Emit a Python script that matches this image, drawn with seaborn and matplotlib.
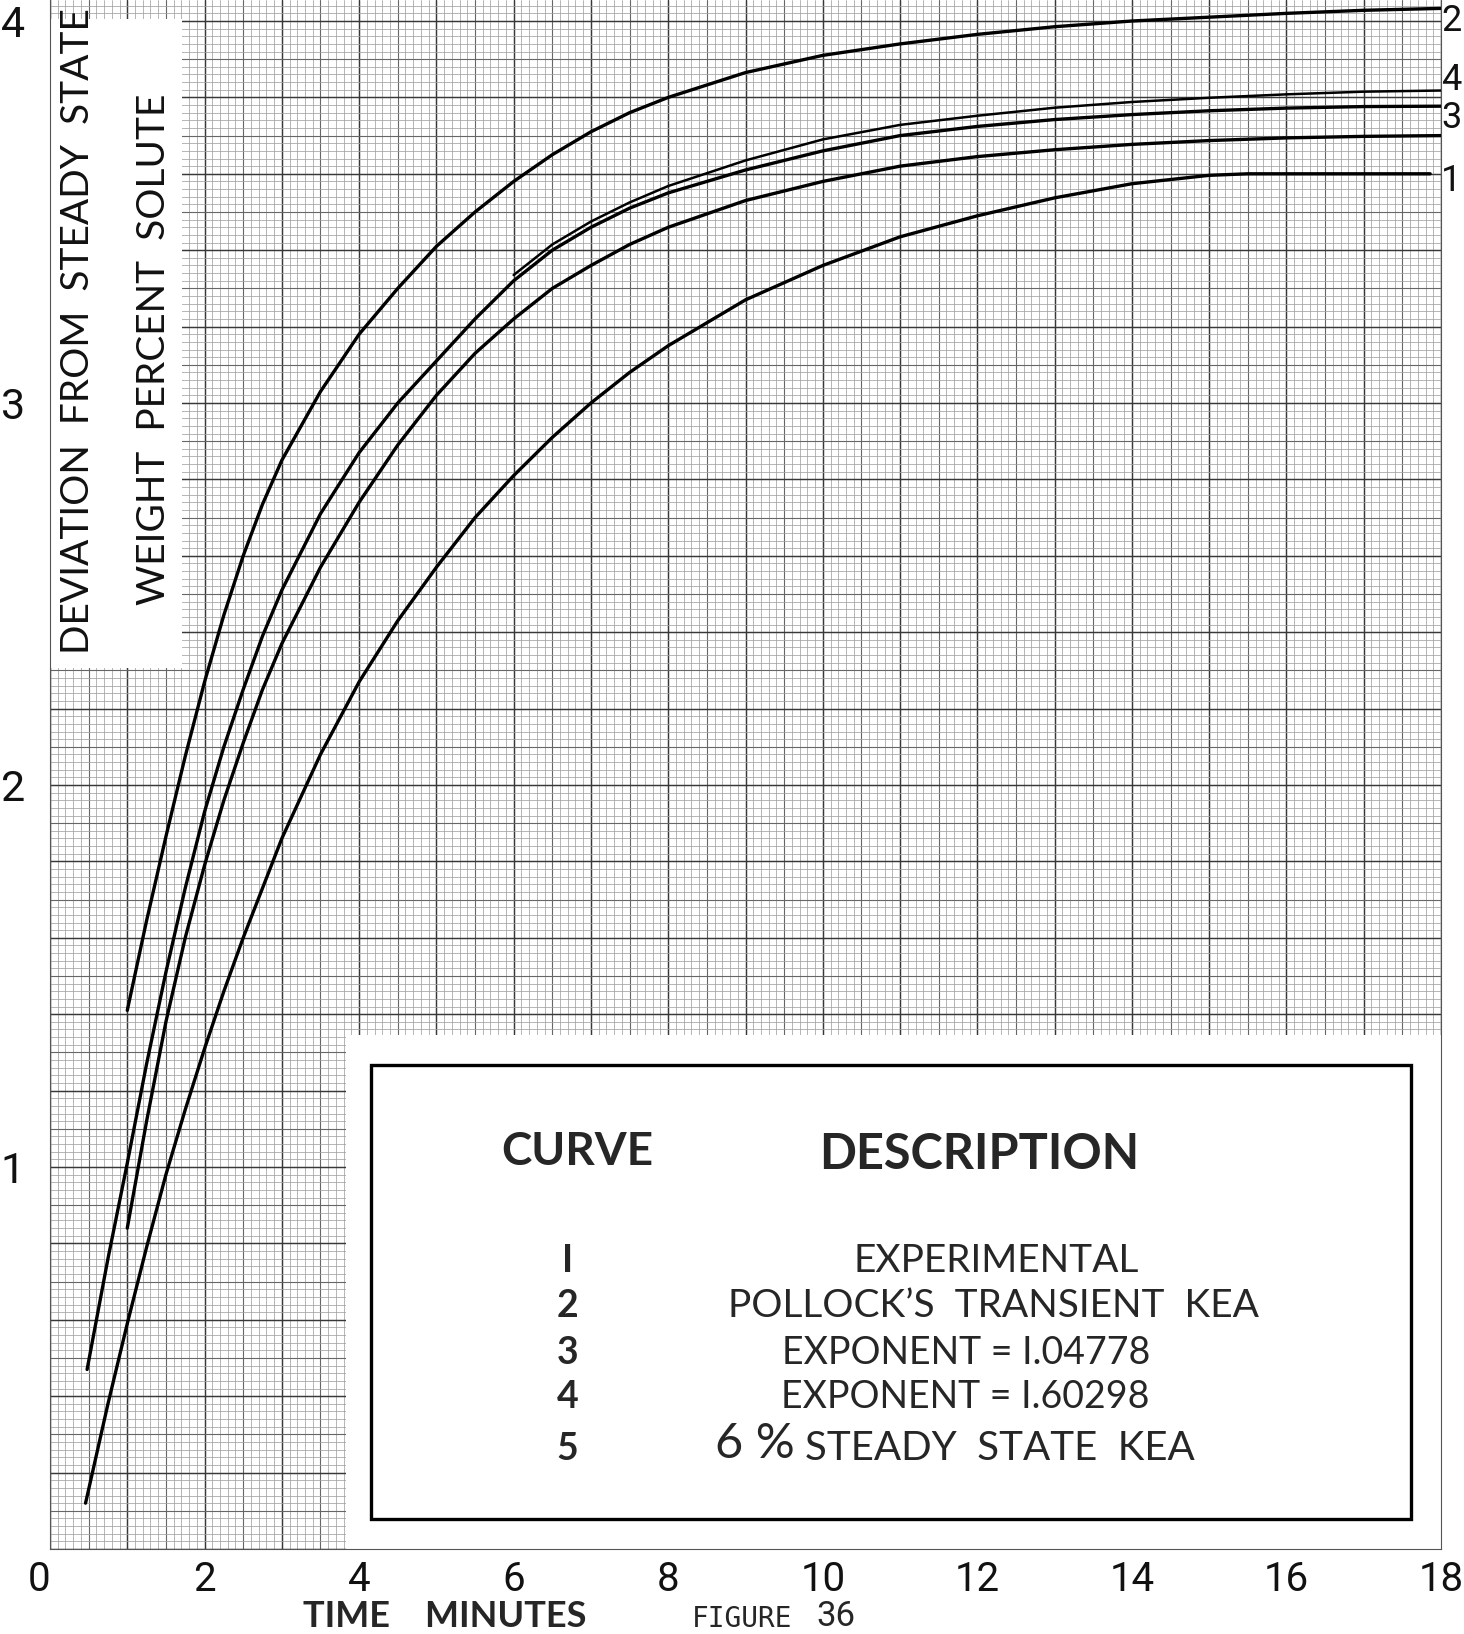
import numpy as np
import pandas as pd
import matplotlib
matplotlib.use("Agg")
import matplotlib.pyplot as plt
import seaborn as sns
from matplotlib.patches import Rectangle

# ---- curve data: time (minutes) vs deviation from steady state (wt % solute) ----
curve1_t = [0.46, 0.75, 1.0, 1.25, 1.5, 1.75, 2.0, 2.25, 2.5, 2.75, 3.0, 3.5, 4.0, 4.5, 5.0,
            5.5, 6.0, 6.5, 7.0, 7.5, 8.0, 9.0, 10.0, 11.0, 12.0, 13.0, 14.0, 15.0, 15.5,
            16.0, 17.0, 17.86]
curve1_y = [0.12, 0.38, 0.59, 0.79, 0.98, 1.15, 1.31, 1.46, 1.60, 1.73, 1.86, 2.08, 2.27, 2.43, 2.57,
            2.70, 2.81, 2.91, 3.00, 3.08, 3.15, 3.27, 3.36, 3.435, 3.49, 3.537, 3.574, 3.596, 3.60,
            3.60, 3.60, 3.60]

curve2_t = [1.0, 1.25, 1.5, 1.75, 2.0, 2.25, 2.5, 2.75, 3.0, 3.5, 4.0, 4.5, 5.0, 5.5, 6.0,
            6.5, 7.0, 7.5, 8.0, 9.0, 10.0, 11.0, 12.0, 13.0, 14.0, 15.0, 16.0, 17.0, 18.0]
curve2_y = [1.41, 1.645, 1.865, 2.075, 2.27, 2.445, 2.60, 2.735, 2.85, 3.03, 3.18, 3.30, 3.41, 3.50, 3.58,
            3.65, 3.71, 3.76, 3.80, 3.865, 3.91, 3.94, 3.965, 3.985, 4.00, 4.01, 4.02, 4.028, 4.033]

curve3_t = [0.48, 0.75, 1.0, 1.25, 1.5, 1.75, 2.0, 2.25, 2.5, 2.75, 3.0, 3.5, 4.0, 4.5, 5.0,
            5.5, 6.0, 6.5, 7.0, 7.5, 8.0, 9.0, 10.0, 11.0, 12.0, 13.0, 14.0, 15.0, 16.0, 17.0, 18.0]
curve3_y = [0.47, 0.76, 1.01, 1.27, 1.51, 1.73, 1.93, 2.10, 2.25, 2.39, 2.51, 2.71, 2.87, 3.00, 3.11,
            3.22, 3.32, 3.40, 3.46, 3.51, 3.55, 3.61, 3.66, 3.70, 3.724, 3.742, 3.755, 3.765, 3.772,
            3.776, 3.777]

curve4_t = [6.0, 6.5, 7.0, 7.5, 8.0, 9.0, 10.0, 11.0, 12.0, 13.0, 14.0, 15.0, 16.0, 17.0, 18.0]
curve4_y = [3.335, 3.415, 3.475, 3.525, 3.568, 3.635, 3.69, 3.728, 3.752, 3.773, 3.788, 3.799,
            3.808, 3.815, 3.818]

curve5_t = [1.0, 1.25, 1.5, 1.75, 2.0, 2.25, 2.5, 2.75, 3.0, 3.5, 4.0, 4.5, 5.0, 5.5, 6.0,
            6.5, 7.0, 7.5, 8.0, 9.0, 10.0, 11.0, 12.0, 13.0, 14.0, 15.0, 16.0, 17.0, 18.0]
curve5_y = [0.84, 1.12, 1.38, 1.60, 1.79, 1.96, 2.11, 2.25, 2.37, 2.57, 2.74, 2.89, 3.02, 3.13, 3.22,
            3.30, 3.36, 3.415, 3.46, 3.53, 3.58, 3.62, 3.645, 3.663, 3.677, 3.687, 3.694, 3.698, 3.70]

x_ticks = [0, 2, 4, 6, 8, 10, 12, 14, 16, 18]
y_ticks = [1, 2, 3, 4]

legend_ids = ["I", "2", "3", "4", "5"]
legend_desc = ["EXPERIMENTAL", "POLLOCK\u2019S  TRANSIENT  KEA", "EXPONENT = I.04778",
               "EXPONENT = I.60298", "STEADY  STATE  KEA"]

# long-form table of the curves drawn with the full pen
frames = []
for name, t, y in [("1", curve1_t, curve1_y), ("2", curve2_t, curve2_y),
                   ("3", curve3_t, curve3_y), ("5", curve5_t, curve5_y)]:
    frames.append(pd.DataFrame({"time": t, "deviation": y, "curve": name}))
df = pd.concat(frames, ignore_index=True)
df4 = pd.DataFrame({"time": curve4_t, "deviation": curve4_y, "curve": "4"})

sns.set_style("white")
plt.rcParams["font.family"] = ["DejaVu Sans"]

W, H = 1464, 1634
fig = plt.figure(figsize=(W / 100, H / 100), dpi=100)
ax = fig.add_axes([50 / W, 85 / H, 1391 / W, 1549 / H])
YTOP = 1549 / 382.0
ax.set_xlim(0, 18)
ax.set_ylim(0, YTOP)

# ---- graph-paper ruling: 1 / 0.5 / 0.1 min across, 0.2 / 0.1 / 0.02 % up ----
def rule_style(k):
    if k % 10 == 0:
        return "#383838", 1.05
    if k % 5 == 0:
        return "#666666", 0.8
    return "#a2a2a2", 0.55

for k in range(0, 181):
    c, lw = rule_style(k)
    ax.axvline(k * 0.1, color=c, lw=lw, zorder=1)
for k in range(0, 203):
    c, lw = rule_style(k)
    ax.axhline(k * 0.02, color=c, lw=lw, zorder=1)

# blank areas pasted over the paper
ax.add_patch(Rectangle((0.0, 2.306), 1.71, 1.70, facecolor="white", edgecolor="none", zorder=1.5))
ax.add_patch(Rectangle((3.83, -0.05), 14.5, 1.395, facecolor="white", edgecolor="none", zorder=1.5))

# ---- curves ----
sns.lineplot(data=df, x="time", y="deviation", units="curve", estimator=None, sort=False,
             color="black", lw=2.4, ax=ax, zorder=4, legend=False)
sns.lineplot(data=df4, x="time", y="deviation", estimator=None, sort=False,
             color="black", lw=1.8, ax=ax, zorder=4, legend=False)

# ---- axes furniture ----
ax.spines["top"].set_visible(False)
for s in ["left", "bottom", "right"]:
    ax.spines[s].set_color("#555555")
    ax.spines[s].set_linewidth(0.8)
    ax.spines[s].set_zorder(2)
ax.set_xlabel("")
ax.set_ylabel("")
tick_font = ["Roboto", "DejaVu Sans"]
ax.set_xticks(x_ticks)
ax.set_xticklabels([str(v) for v in x_ticks], fontsize=29, family=tick_font, color="#111111")
ax.get_xticklabels()[0].set_horizontalalignment("right")
ax.set_yticks(y_ticks)
ax.set_yticklabels([str(v) for v in y_ticks], fontsize=31, family=tick_font, color="#111111")
ax.tick_params(axis="both", length=0)
ax.tick_params(axis="x", pad=8)
ax.tick_params(axis="y", pad=18)

# curve numbers at the right-hand end
for lab, yv in [("2", 4.0), ("4", 3.845), ("3", 3.745), ("1", 3.58)]:
    ax.text(18.0, yv, lab, fontsize=26, family=tick_font, ha="left", va="center",
            clip_on=False, zorder=5, color="#111111")

# axis titles
def figtext(x, y, s, **kw):
    fig.text(x / W, 1 - y / H, s, **kw)

lab_font = ["Lato", "DejaVu Sans"]
figtext(78, 331, "DEVIATION  FROM  STEADY  STATE", rotation=90, fontsize=28,
        family=lab_font, ha="center", va="center", color="#111111")
figtext(154, 349, "WEIGHT  PERCENT  SOLUTE", rotation=90, fontsize=28,
        family=lab_font, ha="center", va="center", color="#111111")
figtext(445, 1633, "TIME    MINUTES", fontsize=26, fontweight="bold",
        family=lab_font, ha="center", va="bottom")
figtext(742, 1633, "FIGURE", fontsize=20, family=["DejaVu Sans Mono"], ha="center", va="bottom")
figtext(836, 1633, "36", fontsize=25, family=tick_font, ha="center", va="bottom")

# ---- key box ----
ax.add_patch(Rectangle((4.16, 0.079), 13.45, 1.187, facecolor="white", edgecolor="black",
                       lw=2.4, zorder=3))
ax.text(6.83, 1.039, "CURVE", fontsize=33, fontweight="bold", family=lab_font,
        ha="center", va="center", zorder=5)
ax.text(12.03, 1.034, "DESCRIPTION", fontsize=35, fontweight="bold", family=lab_font,
        ha="center", va="center", zorder=5)
row_y = [0.755, 0.635, 0.513, 0.397, 0.262]
row_x = [12.25, 12.21, 11.85, 11.85, 12.29]
row_size = [28, 28, 27, 27, 29]
for lab, desc, yv, xv, fs in zip(legend_ids, legend_desc, row_y, row_x, row_size):
    ax.text(6.70, yv, lab, fontsize=27, fontweight="bold", family=lab_font,
            ha="center", va="center", zorder=5)
    ax.text(xv, yv, desc, fontsize=fs, family=lab_font,
            ha="center", va="center", zorder=5)
ax.text(9.12, 0.275, "6 %", fontsize=35, family=lab_font,
        ha="center", va="center", zorder=5)

fig.savefig("out.png", dpi=100, facecolor="white")
